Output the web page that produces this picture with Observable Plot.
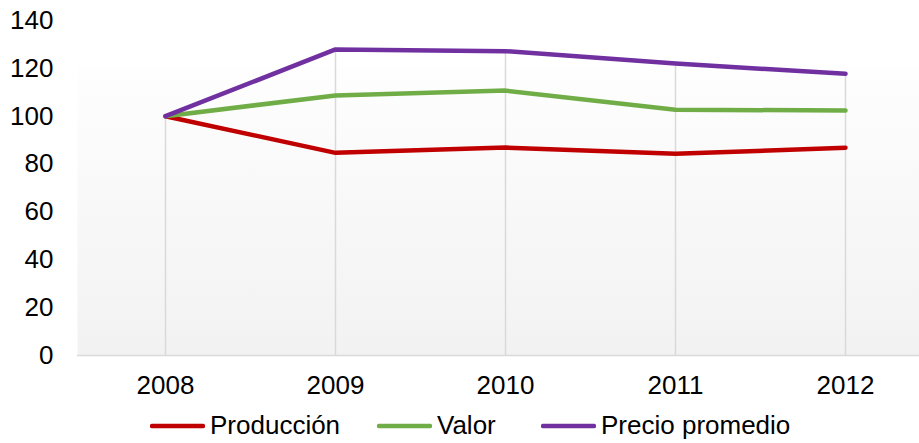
<!DOCTYPE html>
<html>
<head>
<meta charset="utf-8">
<script src="https://cdn.jsdelivr.net/npm/d3@7"></script>
<script src="https://cdn.jsdelivr.net/npm/@observablehq/plot@0.6"></script>
<style>
  html, body { margin: 0; padding: 0; background: #fff; }
  body { width: 919px; height: 443px; overflow: hidden; font-family: "Liberation Sans", Arial, sans-serif; }
  #legend { position: relative; height: 43px; width: 919px; }
  .item { position: absolute; top: 4px; height: 43px; display: flex; align-items: center; font-size: 26px; color: #000; }
  .item svg { margin-right: 5px; }
</style>
</head>
<body>
<div id="chart"></div>
<div id="legend"></div>
<script>
const years = ["2008", "2009", "2010", "2011", "2012"];
const produccion = [100, 84.7, 86.9, 84.3, 86.8];
const valor = [100, 108.7, 110.7, 102.7, 102.4];
const precio = [100, 127.9, 127.2, 122.0, 117.7];
const seriesNames = ["Producción", "Valor", "Precio promedio"];
const seriesColors = ["#c00000", "#70ad47", "#7030a0"];
const yTicks = [0, 20, 40, 60, 80, 100, 120, 140];

const seriesValues = [produccion, valor, precio];
const rows = [];
seriesNames.forEach((s, i) => years.forEach((y, j) => rows.push({serie: s, year: y, value: seriesValues[i][j]})));
const drops = years.map((y, j) => ({year: y, top: Math.max(...seriesValues.map(v => v[j]))}));

const chart = Plot.plot({
  width: 919,
  height: 400,
  marginLeft: 77,
  marginRight: 0,
  marginTop: 65,
  marginBottom: 45,
  style: {fontFamily: "Liberation Sans, Arial, sans-serif", background: "transparent", overflow: "visible"},
  x: {type: "point", domain: years, range: [163, 846], padding: 0, align: 0.5},
  y: {domain: [0, 140], range: [355, 20]},
  color: {domain: seriesNames, range: seriesColors},
  marks: [
    Plot.frame({fill: "url(#bggrad)", stroke: null}),
    Plot.ruleX(drops, {x: "year", y1: 0, y2: "top", stroke: "#d9d9d9", strokeWidth: 1.5}),
    Plot.ruleY([0], {stroke: "#d9d9d9", strokeWidth: 1.5}),
    Plot.axisY({ticks: yTicks, tickSize: 0, tickPadding: 24, fontSize: 26, label: null, color: "#000"}),
    Plot.axisX({tickSize: 0, tickPadding: 20, fontSize: 26, label: null, color: "#000"}),
    Plot.line(rows, {x: "year", y: "value", z: "serie", stroke: "serie", strokeWidth: 4.5, strokeLinecap: "round", strokeLinejoin: "round"})
  ]
});

const svg = d3.select(chart);
const defs = svg.insert("defs", ":first-child");
const grad = defs.append("linearGradient").attr("id", "bggrad").attr("x1", 0).attr("y1", 0).attr("x2", 0).attr("y2", 1);
grad.append("stop").attr("offset", "0%").attr("stop-color", "#fefefe");
grad.append("stop").attr("offset", "100%").attr("stop-color", "#f2f2f2");
svg.selectAll("text").attr("fill", "#000");
document.getElementById("chart").appendChild(chart);

const legend = d3.select("#legend");
const lefts = [150, 377, 541];
seriesNames.forEach((name, i) => {
  const item = legend.append("div").attr("class", "item").style("left", lefts[i] + "px");
  const s = item.append("svg").attr("width", 55).attr("height", 8);
  s.append("line").attr("x1", 2).attr("x2", 53).attr("y1", 4).attr("y2", 4)
    .attr("stroke", seriesColors[i]).attr("stroke-width", 4.5).attr("stroke-linecap", "round");
  item.append("span").text(name);
});
</script>
</body>
</html>
